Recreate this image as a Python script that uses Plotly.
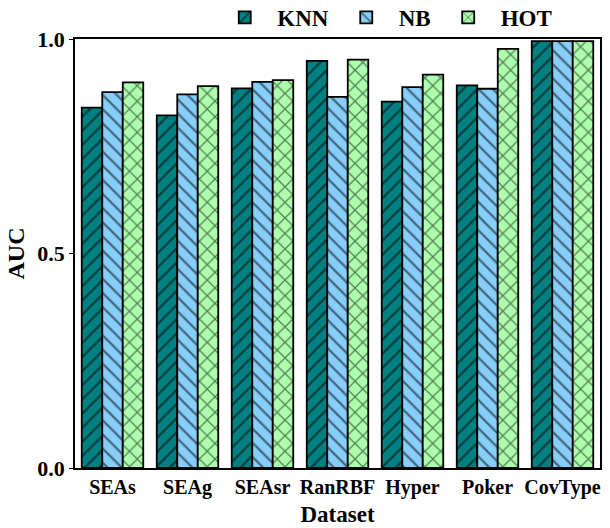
import plotly.graph_objects as go

datasets = ["SEAs", "SEAg", "SEAsr", "RanRBF", "Hyper", "Poker", "CovType"]
knn = [0.840, 0.822, 0.885, 0.949, 0.854, 0.892, 0.995]
nb = [0.876, 0.871, 0.900, 0.865, 0.888, 0.884, 0.995]
hot = [0.899, 0.890, 0.904, 0.952, 0.917, 0.977, 0.995]
y_ticks = [0.0, 0.5, 1.0]
y_labels = ["0.0", "0.5", "1.0"]

series = [
    ("KNN", knn, "#008080", "/", 10),
    ("NB", nb, "#87CEFA", "\\", 10),
    ("HOT", hot, "#ADFFAD", "x", 11),
]

fig = go.Figure()
for name, vals, color, shape, sz in series:
    fig.add_trace(go.Bar(
        name=name, x=datasets, y=vals,
        marker=dict(color=color, line=dict(color="black", width=1.8),
                    pattern=dict(shape=shape, fgcolor="black", bgcolor=color,
                                 size=sz, solidity=0.22, fillmode="overlay")),
    ))

font = "Liberation Serif"
fig.update_layout(
    width=610, height=528,
    margin=dict(l=75, r=10, t=39, b=60, autoexpand=False),
    barmode="group", bargap=0.18, bargroupgap=0,
    plot_bgcolor="white", paper_bgcolor="white",
    font=dict(family=font, size=20, color="black"),
    showlegend=True,
    legend=dict(orientation="h", x=0.59, xanchor="center", y=1.0, yanchor="bottom",
                font=dict(family=font, size=23, color="black", weight="bold"),
                bgcolor="rgba(0,0,0,0)", itemwidth=55, tracegroupgap=0),
    xaxis=dict(showline=True, linecolor="black", linewidth=1.5, mirror=True,
               ticks="", tickfont=dict(family=font, size=20, weight="bold"),
               title=dict(text="<b>Dataset</b>", font=dict(family=font, size=23), standoff=8)),
    yaxis=dict(range=[0, 1.0], showline=True, linecolor="black", linewidth=1.5, mirror=True,
               tickvals=y_ticks, ticktext=y_labels, ticks="outside", ticklen=4,
               tickcolor="black", showgrid=False, zeroline=False,
               tickfont=dict(family=font, size=22, weight="bold"),
               title=dict(text="<b>AUC</b>", font=dict(family=font, size=24), standoff=6)),
)

fig.write_html("out.html", config={"displayModeBar": False},
               post_script="document.body.style.margin='0';document.body.style.overflow='hidden';")
